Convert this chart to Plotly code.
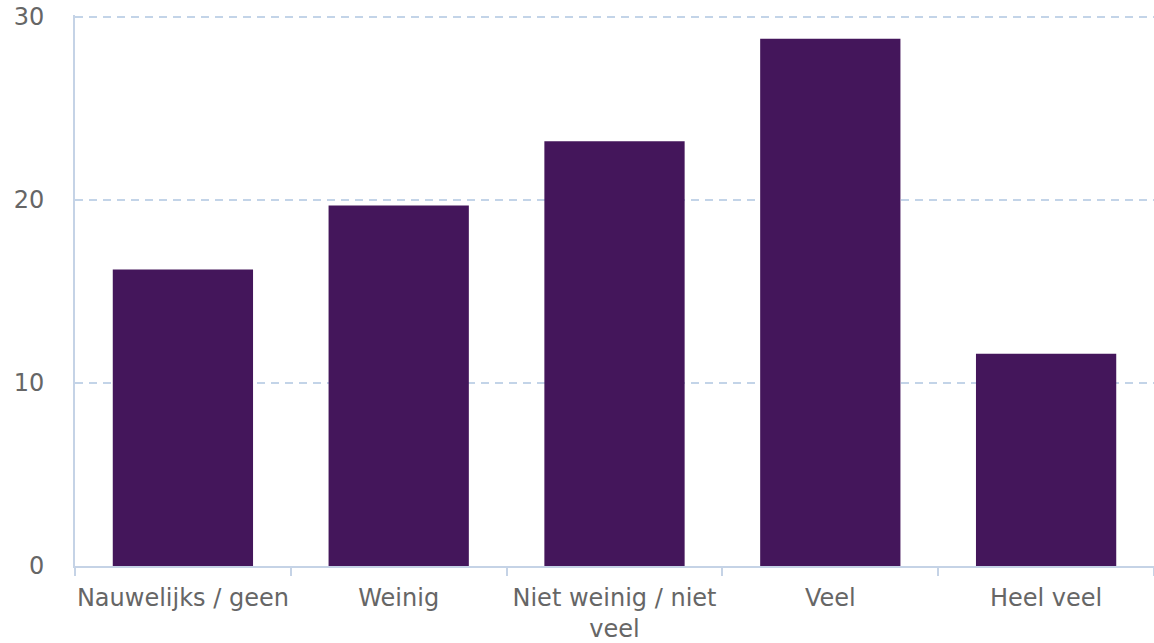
import plotly.graph_objects as go

categories = ["Nauwelijks / geen", "Weinig", "Niet weinig / niet<br>veel", "Veel", "Heel veel"]
values = [16.2, 19.7, 23.2, 28.8, 11.6]

axis_color = "#c5d3e6"
label_color = "#666666"
font_family = "DejaVu Sans"

fig = go.Figure(
    go.Bar(
        x=categories,
        y=values,
        marker=dict(color="#44165b", line=dict(width=0)),
        hoverinfo="x+y",
    )
)

fig.update_layout(
    width=1154,
    height=643,
    margin=dict(l=75, r=0, t=15, b=75),
    paper_bgcolor="white",
    plot_bgcolor="white",
    bargap=0.35,
    showlegend=False,
    font=dict(family=font_family, size=24, color=label_color),
)

fig.update_xaxes(
    showline=True,
    linecolor=axis_color,
    linewidth=2,
    ticks="outside",
    tickson="boundaries",
    ticklen=8,
    tickcolor=axis_color,
    tickwidth=2,
    showgrid=False,
    tickangle=0,
    ticklabelstandoff=9,
    tickfont=dict(family=font_family, size=24, color=label_color),
)

fig.update_yaxes(
    range=[0, 30.1],
    tickvals=[0, 10, 20, 30],
    showline=True,
    linecolor=axis_color,
    linewidth=2,
    showgrid=True,
    gridcolor="#c3d4e8",
    griddash="8px,6px",
    gridwidth=1.5,
    zeroline=False,
    ticks="",
    ticklabelstandoff=24,
    tickfont=dict(family=font_family, size=24, color=label_color),
)

fig.write_html("out.html")
